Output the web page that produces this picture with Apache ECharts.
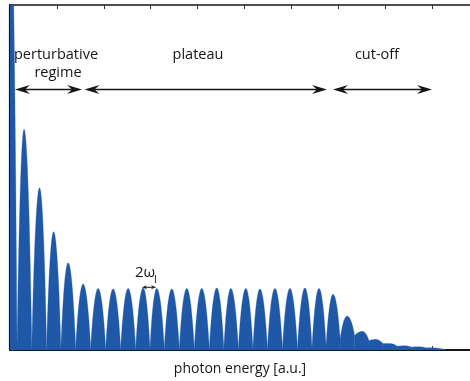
<!DOCTYPE html>
<html>
<head>
<meta charset="utf-8">
<script src="https://cdn.jsdelivr.net/npm/echarts@6/dist/echarts.min.js"></script>
<style>
html,body{margin:0;padding:0;background:#fff;}
#c{width:470px;height:381px;}
</style>
</head>
<body>
<div id="c"></div>
<script>
// Harmonic peaks (x in a.u. of the axis, height in axis units)
const peakX = [0, 3.0, 6.3, 9.3, 12.4, 15.6, 18.8, 22.0, 25.2, 28.4, 31.3, 34.5, 37.7, 40.9, 44.1, 47.1, 50.3, 53.3, 56.5, 59.7, 62.9, 65.9, 68.9, 71.9, 75.1, 78.0, 81.0, 84.1, 87.1, 90.0];
const peakY = [9.5, 4.48, 3.29, 2.40, 1.77, 1.34, 1.25, 1.24, 1.25, 1.26, 1.25, 1.24, 1.25, 1.25, 1.26, 1.25, 1.25, 1.24, 1.25, 1.25, 1.26, 1.25, 1.13, 0.69, 0.38, 0.22, 0.13, 0.085, 0.065, 0.045];
// Minima between the harmonics
const troughX = [-1.5, 1.5, 4.65, 7.8, 10.85, 14.0, 17.2, 20.4, 23.6, 26.8, 29.85, 32.9, 36.1, 39.3, 42.5, 45.6, 48.7, 51.8, 54.9, 58.1, 61.3, 64.4, 67.4, 70.4, 73.5, 76.55, 79.5, 82.55, 85.6, 88.55, 93.0];
const troughY = [0.05, 0.04, 0.04, 0.04, 0.03, 0.03, 0.03, 0.03, 0.03, 0.03, 0.03, 0.03, 0.03, 0.03, 0.03, 0.03, 0.03, 0.03, 0.03, 0.03, 0.03, 0.04, 0.08, 0.22, 0.29, 0.19, 0.13, 0.075, 0.058, 0.045, 0.0];
const xTicks = [0, 10, 20, 30, 40, 50, 60, 70, 80, 90];
const yTicks = [0, 1, 2, 3, 4, 5, 6, 7];
const xTitle = 'photon energy [a.u.]';
const regionLabels = ['perturbative', 'regime', 'plateau', 'cut-off'];

const BLUE = '#1f58a6';
const INK = '#161616';
const FONT = 'Open Sans';

const lobes = peakX.map((x, i) => [x, peakY[i], troughX[i], troughY[i], troughX[i + 1], troughY[i + 1]]);

function renderLobe(params, api) {
  const p = api.coord([api.value(0), api.value(1)]);
  const l = api.coord([api.value(2), api.value(3)]);
  const r = api.coord([api.value(4), api.value(5)]);
  const base = api.coord([api.value(0), 0])[1];
  const f = v => v.toFixed(2);
  const dxl = p[0] - l[0], dxr = r[0] - p[0];
  const d = [
    'M', f(l[0]), f(base),
    'L', f(l[0]), f(l[1]),
    'C', f(l[0] + 0.22 * dxl), f(l[1] + 0.5 * (p[1] - l[1])), f(p[0] - 0.42 * dxl), f(p[1]), f(p[0]), f(p[1]),
    'C', f(p[0] + 0.42 * dxr), f(p[1]), f(r[0] - 0.22 * dxr), f(r[1] + 0.5 * (p[1] - r[1])), f(r[0]), f(r[1]),
    'L', f(r[0]), f(base), 'Z'
  ].join(' ');
  return { type: 'path', shape: { pathData: d }, style: { fill: BLUE, stroke: BLUE, lineWidth: 0.3 } };
}

function arrow(x1, x2, y, head, half, notch, lw) {
  const els = [{ type: 'line', shape: { x1: x1 + notch, y1: y, x2: x2 - notch, y2: y }, style: { stroke: INK, lineWidth: lw } }];
  els.push({ type: 'polygon', shape: { points: [[x1, y], [x1 + head, y - half], [x1 + notch, y], [x1 + head, y + half]] }, style: { fill: INK } });
  els.push({ type: 'polygon', shape: { points: [[x2, y], [x2 - head, y - half], [x2 - notch, y], [x2 - head, y + half]] }, style: { fill: INK } });
  return els;
}

const chart = echarts.init(document.getElementById('c'), null, { renderer: 'canvas' });

const axisCommon = {
  type: 'value',
  axisLabel: { show: false },
  splitLine: { show: false },
  axisTick: { show: true, inside: true, length: 4, lineStyle: { color: '#333', width: 1 } }
};

const textStyle = (x, y, text) => ({
  type: 'text', x: x, y: y,
  style: { text: text, font: '14.5px "' + FONT + '"', fill: INK, align: 'center', verticalAlign: 'middle' }
});

chart.setOption({
  animation: false,
  grid: { left: 10, right: 0, top: 5, bottom: 26 },
  xAxis: [
    Object.assign({}, axisCommon, {
      min: xTicks[0], max: 98.1, interval: xTicks[1] - xTicks[0], position: 'bottom',
      axisLine: { show: true, onZero: false, lineStyle: { color: INK, width: 2.2 } },
      name: xTitle, nameLocation: 'middle', nameGap: 12,
      nameTextStyle: { fontFamily: FONT, fontSize: 14, color: INK }
    }),
    Object.assign({}, axisCommon, {
      min: xTicks[0], max: 98.1, interval: xTicks[1] - xTicks[0], position: 'top',
      axisLine: { show: true, onZero: false, lineStyle: { color: INK, width: 1.6 } }
    })
  ],
  yAxis: Object.assign({}, axisCommon, {
    min: yTicks[0], max: yTicks[yTicks.length - 1], interval: yTicks[1] - yTicks[0],
    axisLine: { show: true, onZero: false, lineStyle: { color: INK, width: 2.2 } }
  }),
  series: [{
    type: 'custom',
    clip: true,
    renderItem: renderLobe,
    encode: { x: [0, 2, 4], y: [1, 3, 5] },
    data: lobes,
    z: 1
  }],
  graphic: [
    textStyle(56, 55, regionLabels[0]),
    textStyle(58, 73, regionLabels[1]),
    textStyle(198, 55, regionLabels[2]),
    textStyle(377, 55, regionLabels[3]),
    { type: 'group', children: arrow(15, 82, 89.5, 15, 4.5, 10, 1.3) },
    { type: 'group', children: arrow(84.5, 327, 89.5, 15, 4.5, 10, 1.3) },
    { type: 'group', children: arrow(333, 432, 89.5, 15, 4.5, 10, 1.3) },
    { type: 'group', children: arrow(142, 156, 287.3, 5, 2, 3.5, 1) },
    { type: 'text', x: 145, y: 280, style: { text: '2ω', font: '15px "' + FONT + '"', fill: INK, align: 'center', verticalAlign: 'bottom' } },
    { type: 'text', x: 155.5, y: 285, style: { text: 'l', font: '11px "' + FONT + '"', fill: INK, align: 'center', verticalAlign: 'bottom' } }
  ]
});
</script>
</body>
</html>
